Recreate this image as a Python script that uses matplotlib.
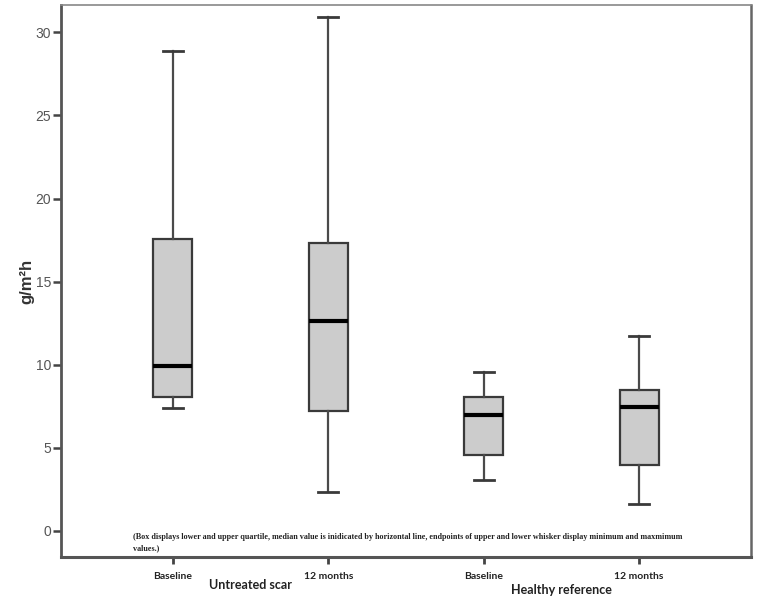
import matplotlib
matplotlib.use("Agg")
import matplotlib.pyplot as plt

# box statistics (g/m2h)
labels = ["Baseline", "12 months", "Baseline", "12 months"]
groups = ["Untreated scar", "Healthy reference"]
whislo = [7.4, 2.33, 3.05, 1.64]
q1 = [8.08, 7.24, 4.56, 3.99]
med = [9.9, 12.65, 7.0, 7.47]
q3 = [17.55, 17.35, 8.03, 8.47]
whishi = [28.9, 30.9, 9.55, 11.74]

caption = ("(Box displays lower and upper quartile, median value is inidicated by horizontal line, "
           "endpoints of upper and lower whisker display minimum and maxmimum\nvalues.)")

stats = []
for i in range(len(labels)):
	stats.append(dict(whislo=whislo[i], q1=q1[i], med=med[i], q3=q3[i], whishi=whishi[i],
					  label=labels[i], fliers=[]))

fig = plt.figure(figsize=(7.59, 6.0), dpi=100)
ax = fig.add_axes([0.0804, 0.0717, 0.9091, 0.92])

ax.bxp(stats, positions=[1, 2, 3, 4], widths=0.25, patch_artist=True,
	   boxprops=dict(facecolor="#cccccc", edgecolor="#3a3a3a", linewidth=1.6),
	   medianprops=dict(color="black", linewidth=3),
	   whiskerprops=dict(color="#4a4a4a", linewidth=1.6),
	   capprops=dict(color="#3a3a3a", linewidth=2),
	   capwidths=0.13)

ax.set_xlim(0.28, 4.72)
ax.set_ylim(-1.57, 31.65)
ax.set_yticks([0, 5, 10, 15, 20, 25, 30])

for s in ax.spines.values():
	s.set_color("#555555")
ax.spines["left"].set_linewidth(2)
ax.spines["bottom"].set_linewidth(2.2)
ax.spines["top"].set_linewidth(1.2)
ax.spines["top"].set_color("#888888")
ax.spines["right"].set_linewidth(1.8)
ax.spines["right"].set_color("#666666")

ax.tick_params(axis="y", direction="out", length=6, width=1.8, color="#444444",
			   labelsize=10, labelcolor="#555555", pad=1)
ax.tick_params(axis="x", direction="out", length=5, width=2, color="#444444",
			   labelsize=7.5, pad=6)
for t in ax.get_yticklabels():
	t.set_fontfamily("Liberation Sans")
for t in ax.get_xticklabels():
	t.set_fontfamily("Lato")
	t.set_fontweight("bold")
	t.set_color("#222222")

ax.set_ylabel("g/m²h", fontsize=12, fontweight="bold", family="Liberation Sans",
			  color="#333333", labelpad=1)

ax.text(0.104, 0.026, caption, transform=ax.transAxes, fontsize=5.9, family="Liberation Serif",
		fontweight="bold", color="#222222", va="center", ha="left", linespacing=1.6)

# group labels under the tick labels
ax.text(1.5, -0.051, groups[0], transform=ax.get_xaxis_transform(), ha="center", va="center",
		fontsize=9, family="Lato", fontweight="bold", color="#222222")
ax.text(3.5, -0.06, groups[1], transform=ax.get_xaxis_transform(), ha="center", va="center",
		fontsize=9, family="Lato", fontweight="bold", color="#222222")

fig.savefig("out.png", dpi=100)
